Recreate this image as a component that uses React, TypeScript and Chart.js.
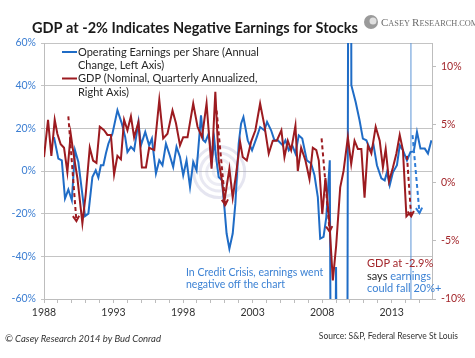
import React, { useEffect, useRef } from 'react';
import { Chart, registerables } from 'chart.js';
Chart.register(...registerables);

// ---- Data ----
const earningsYears = [
  1988.72, 1989.03, 1989.28, 1989.51, 1989.75, 1990.0, 1990.23, 1990.47, 1990.72, 1990.95,
  1991.19, 1991.48, 1991.72, 1991.91, 1992.09, 1992.27, 1992.45, 1992.63, 1992.92, 1993.28,
  1993.6, 1993.84, 1994.0, 1994.25, 1994.48, 1994.79, 1994.97, 1995.28, 1995.56, 1995.76,
  1996.05, 1996.29, 1996.52, 1996.77, 1997.04, 1997.29, 1997.53, 1997.78, 1998.01, 1998.25,
  1998.5, 1998.73, 1998.97, 1999.29, 1999.46, 1999.6, 1999.84, 2000.08, 2000.25, 2000.37,
  2000.56, 2000.8, 2000.97, 2001.13, 2001.33, 2001.57, 2001.76, 2002.0, 2002.17, 2002.34,
  2002.65, 2002.96, 2003.3, 2003.54, 2003.85, 2004.04, 2004.33, 2004.57, 2004.81, 2005.17,
  2005.36, 2005.6, 2005.85, 2006.08, 2006.32, 2006.57, 2006.9, 2007.21, 2007.45, 2007.69,
  2007.86, 2008.1, 2008.3, 2008.55, 2008.75, 2009.0, 2009.25, 2009.75, 2010.0, 2010.1,
  2010.41, 2010.69, 2010.93, 2011.18, 2011.47, 2011.7, 2011.94, 2012.26, 2012.5, 2012.66,
  2012.86, 2013.09, 2013.38, 2013.58, 2013.81, 2014.1, 2014.35, 2014.59, 2014.82, 2015.07,
  2015.38, 2015.61, 2015.86,
];
const earningsValues = [
  15.9, 5.8, 5.0, -12.9, -8.7, -13.7, 9.7, 4.2, -9.0, -21.2,
  -20.0, -2.8, 0.3, -3.1, 2.7, 2.7, 8.2, 12.8, 17.5, 28.5,
  22.2, 15.9, 8.9, 11.3, 9.7, 23.0, 12.0, 18.3, 12.0, 15.2,
  -1.2, 5.0, 2.7, 12.8, 7.4, 1.9, 11.3, 6.6, -2.0, 5.0,
  -7.5, 4.2, 0.3, 26.1, 14.4, 13.6, 17.5, 5.0, 14.4, 6.6,
  -2.8, -4.4, -16.9, -29.3, -36.4, -29.3, -15.3, 12.8, 22.2, 25.3,
  14.4, 9.7, 15.9, 20.6, 19.1, 23.0, 19.1, 14.4, 14.4, 12.0,
  14.4, 9.7, 12.0, 8.2, 16.7, 15.2, 5.0, 3.5, -2.0, -12.2,
  -31.7, -30.9, -21.6, 5.0, -300, -45, -300, -300, 500, 40.2,
  32.3, 23.8, 15.2, 14.4, 9.7, 12.0, 2.7, -3.4, -4.4, -0.6,
  -6.7, -0.6, 2.7, 12.0, 9.7, 5.0, 8.9, 9.2, 18.3, 10.5,
  10.5, 8.2, 14.4,
];

const gdpYears = [
  1988.0, 1988.29, 1988.53, 1988.77, 1988.96, 1989.2, 1989.44, 1989.68, 1989.92, 1990.16,
  1990.4, 1990.76, 1991.0, 1991.29, 1991.53, 1991.77, 1992.01, 1992.32, 1992.56, 1992.81,
  1993.04, 1993.28, 1993.53, 1993.76, 1994.0, 1994.25, 1994.48, 1994.79, 1995.04, 1995.33,
  1995.56, 1995.93, 1996.29, 1996.57, 1996.88, 1997.24, 1997.49, 1997.78, 1998.01, 1998.32,
  1998.73, 1999.04, 1999.36, 1999.69, 2000.05, 2000.32, 2000.56, 2000.8, 2000.97, 2001.33,
  2001.57, 2001.81, 2002.1, 2002.29, 2002.58, 2002.89, 2003.2, 2003.54, 2003.85, 2004.16,
  2004.45, 2004.74, 2005.07, 2005.29, 2005.53, 2005.77, 2006.08, 2006.25, 2006.49, 2006.8,
  2007.09, 2007.33, 2007.58, 2007.76, 2008.01, 2008.24, 2008.53, 2008.77, 2009.01, 2009.3,
  2009.54, 2009.85, 2010.09, 2010.33, 2010.57, 2010.82, 2011.05, 2011.29, 2011.54, 2011.85,
  2012.14, 2012.37, 2012.57, 2012.81, 2013.09, 2013.34, 2013.58, 2013.81, 2014.06, 2014.3,
];
const gdpValues = [
  2.2, 5.4, 2.3, 5.4, 4.2, 3.3, 3.0, 0.9, 4.2, 2.2,
  0.4, -3.5, -1.0, 3.0, 1.9, 1.7, 4.8, 4.5, 4.1, 4.1,
  0.7, 2.3, 2.0, 5.4, 4.5, 5.7, 3.9, 5.2, 1.3, 1.3,
  3.0, 2.8, 7.1, 3.8, 4.2, 6.2, 5.1, 3.2, 3.9, 3.9,
  6.8, 4.8, 3.9, 6.8, 1.2, 7.8, 1.9, 0.1, -1.6, 1.2,
  -1.3, 0.7, 3.5, 2.2, 1.9, 3.5, 4.5, 6.8, 4.9, 2.5,
  3.6, 3.6, 4.5, 2.2, 3.6, 2.8, 4.9, 1.0, 3.0, 1.9,
  0.3, 3.0, 2.8, 1.9, -2.7, 0.4, -3.6, -8.4, -5.4, -0.4,
  1.0, 3.9, 1.6, 3.6, 2.9, 2.9, -1.3, 3.2, 2.5, 4.8,
  3.6, 1.3, 2.9, 0.1, 1.3, 2.5, 4.1, 2.8, -2.9, -2.6,
];

const leftTicks = [-60, -40, -20, 0, 20, 40, 60];
const rightTicks = [-10, -5, 0, 5, 10];
const labeledYears = [1988, 1993, 1998, 2003, 2008, 2013];

// dashed arrows on the GDP (right) axis
const gdpArrowFromYear = [1989.75, 2000.41, 2007.96, 2014.1];
const gdpArrowFromValue = [5.7, 6.2, 3.8, 2.3];
const gdpArrowToYear = [1990.33, 2001.04, 2008.54, 2014.4];
const gdpArrowToValue = [-3.3, -1.9, -4.2, -2.9];
// dashed arrow on the earnings (left) axis
const epsArrowFromYear = [2014.5];
const epsArrowFromValue = [16.8];
const epsArrowToYear = [2015.0];
const epsArrowToValue = [-19.7];

const markerYear = 2014.35;
const watermarkYear = 2000.6;
const watermarkValue = -0.5;

const BLUE = '#1F6CC6';
const RED = '#9C1B20';
const TEXT_BLUE = '#3C82D4';
const FONT = 'Lato, "Open Sans", sans-serif';

function drawArrow(ctx: CanvasRenderingContext2D, x1: number, y1: number, x2: number, y2: number, color: string) {
  ctx.save();
  ctx.strokeStyle = color;
  ctx.lineWidth = 2;
  ctx.setLineDash([4, 3]);
  ctx.beginPath();
  ctx.moveTo(x1, y1);
  ctx.lineTo(x2, y2);
  ctx.stroke();
  ctx.setLineDash([]);
  const ang = Math.atan2(y2 - y1, x2 - x1);
  const len = 6;
  ctx.beginPath();
  ctx.moveTo(x2 - len * Math.cos(ang - 0.55), y2 - len * Math.sin(ang - 0.55));
  ctx.lineTo(x2, y2);
  ctx.lineTo(x2 - len * Math.cos(ang + 0.55), y2 - len * Math.sin(ang + 0.55));
  ctx.stroke();
  ctx.restore();
}

const decorPlugin = {
  id: 'decor',
  beforeDatasetsDraw(chart: any) {
    const { ctx, chartArea, scales } = chart;
    const cx = scales.x.getPixelForValue(watermarkYear);
    const cy = scales.y.getPixelForValue(watermarkValue);
    ctx.save();
    ctx.beginPath();
    ctx.rect(chartArea.left, chartArea.top, chartArea.right - chartArea.left, chartArea.bottom - chartArea.top);
    ctx.clip();
    [6, 12.5, 19, 25.5].forEach((r, i) => {
      ctx.beginPath();
      ctx.arc(cx, cy, r, 0, Math.PI * 2);
      ctx.strokeStyle = `rgba(160,160,200,${0.16 + i * 0.04})`;
      ctx.lineWidth = 3;
      ctx.stroke();
    });
    // marker vertical line
    const mx = scales.x.getPixelForValue(markerYear);
    ctx.beginPath();
    ctx.moveTo(mx + 0.5, chartArea.top);
    ctx.lineTo(mx + 0.5, chartArea.bottom);
    ctx.strokeStyle = '#5B95D6';
    ctx.lineWidth = 1;
    ctx.stroke();
    ctx.restore();
  },
  afterDatasetsDraw(chart: any) {
    const { ctx, scales } = chart;
    gdpArrowFromYear.forEach((_, i) => {
      drawArrow(ctx,
        scales.x.getPixelForValue(gdpArrowFromYear[i]), scales.y1.getPixelForValue(gdpArrowFromValue[i]),
        scales.x.getPixelForValue(gdpArrowToYear[i]), scales.y1.getPixelForValue(gdpArrowToValue[i]), RED);
    });
    epsArrowFromYear.forEach((_, i) => {
      drawArrow(ctx,
        scales.x.getPixelForValue(epsArrowFromYear[i]), scales.y.getPixelForValue(epsArrowFromValue[i]),
        scales.x.getPixelForValue(epsArrowToYear[i]), scales.y.getPixelForValue(epsArrowToValue[i]), '#2C7BD6');
    });
  },
  afterDraw(chart: any) {
    const { ctx } = chart;
    ctx.save();
    ctx.textBaseline = 'middle';
    ctx.textAlign = 'left';

    // Title fitted to its width in the reference
    const title = 'GDP at -2% Indicates Negative Earnings for Stocks';
    ctx.font = `bold 18px ${FONT}`;
    const w = ctx.measureText(title).width;
    const size = Math.min(19, 18 * 326 / w);
    ctx.font = `bold ${size}px ${FONT}`;
    ctx.fillStyle = '#1a1a1a';
    ctx.textBaseline = 'alphabetic';
    ctx.fillText(title, 32, 33);

    // Logo
    ctx.beginPath();
    ctx.arc(371, 22, 7, 0, Math.PI * 2);
    ctx.fillStyle = '#9a9a9a';
    ctx.fill();
    ctx.beginPath();
    ctx.arc(373, 21, 3.5, 0, Math.PI * 2);
    ctx.fillStyle = '#e0e0e0';
    ctx.fill();
    let lx = 381;
    const parts: [string, number][] = [['C', 11], ['ASEY ', 8.3], ['R', 11], ['ESEARCH.COM', 8.3]];
    ctx.fillStyle = '#6d6d6d';
    parts.forEach(([t, s]) => {
      ctx.font = `${s}px "Liberation Serif", "DejaVu Serif", serif`;
      ctx.fillText(t, lx, 26);
      lx += ctx.measureText(t).width;
    });

    // Legend
    ctx.textBaseline = 'middle';
    ctx.font = `11px ${FONT}`;
    ctx.fillStyle = '#262626';
    ctx.lineWidth = 2;
    ctx.strokeStyle = BLUE;
    ctx.beginPath(); ctx.moveTo(62, 52); ctx.lineTo(77, 52); ctx.stroke();
    ctx.strokeStyle = RED;
    ctx.beginPath(); ctx.moveTo(62, 78.5); ctx.lineTo(77, 78.5); ctx.stroke();
    ctx.fillText('Operating Earnings per Share (Annual', 78, 52);
    ctx.fillText('Change, Left Axis)', 78, 65);
    ctx.fillText('GDP (Nominal, Quarterly Annualized,', 78, 78.5);
    ctx.fillText('Right Axis)', 78, 92);

    // Credit crisis note
    ctx.font = `10.5px ${FONT}`;
    ctx.fillStyle = TEXT_BLUE;
    ctx.fillText('In Credit Crisis, earnings went', 186, 273);
    ctx.fillText('negative off the chart', 186, 284.5);

    // GDP note
    ctx.font = `11px ${FONT}`;
    ctx.fillStyle = '#A3262B';
    ctx.fillText('GDP at -2.9%', 367, 263);
    ctx.fillStyle = '#262626';
    ctx.fillText('says ', 367, 276);
    const sw = ctx.measureText('says ').width;
    ctx.fillStyle = TEXT_BLUE;
    ctx.fillText('earnings', 367 + sw, 276);
    ctx.fillText('could fall 20%+', 367, 288);

    // Footer
    ctx.font = `italic 9.5px ${FONT}`;
    ctx.fillStyle = '#333';
    ctx.fillText('\u00A9 Casey Research 2014 by Bud Conrad', 5, 339);
    ctx.font = `8.5px ${FONT}`;
    ctx.textAlign = 'right';
    ctx.fillText('Source: S&P, Federal Reserve St Louis', 458, 336);
    ctx.restore();
  },
};

export default function App() {
  const ref = useRef<HTMLCanvasElement | null>(null);
  useEffect(() => {
    if (!ref.current) return;
    const yearTickValues: number[] = [];
    for (let yr = 1988; yr <= 2015; yr++) yearTickValues.push(yr);
    const chart = new Chart(ref.current, {
      type: 'line',
      data: {
        datasets: [
          {
            label: 'GDP (Nominal, Quarterly Annualized, Right Axis)',
            data: gdpYears.map((x, i) => ({ x, y: gdpValues[i] })),
            borderColor: RED,
            borderWidth: 2,
            pointRadius: 0,
            tension: 0,
            yAxisID: 'y1',
            order: 0,
          },
          {
            label: 'Operating Earnings per Share (Annual Change, Left Axis)',
            data: earningsYears.map((x, i) => ({ x, y: earningsValues[i] })),
            borderColor: BLUE,
            borderWidth: 2,
            pointRadius: 0,
            tension: 0,
            yAxisID: 'y',
            order: 1,
          },
        ],
      },
      options: {
        responsive: false,
        animation: false,
        events: [],
        layout: { padding: { top: 43, bottom: 37, left: 0, right: 0 } },
        plugins: { legend: { display: false }, tooltip: { enabled: false }, title: { display: false } },
        scales: {
          x: {
            type: 'linear',
            min: 1988,
            max: 2015.9,
            afterBuildTicks: (s: any) => { s.ticks = yearTickValues.map((v) => ({ value: v })); },
            afterFit: (s: any) => { s.height = 22; },
            ticks: {
              autoSkip: false,
              maxRotation: 0,
              padding: 3,
              color: '#333',
              font: { family: FONT, size: 10.5 },
              callback: (v: any) => (labeledYears.includes(v) ? String(v) : ''),
            },
            grid: { drawOnChartArea: false, drawTicks: true, tickLength: 4, color: '#BDBDBD' },
            border: { color: '#BDBDBD' },
          },
          y: {
            position: 'left',
            min: -60,
            max: 60,
            afterBuildTicks: (s: any) => { s.ticks = leftTicks.map((v) => ({ value: v })); },
            afterFit: (s: any) => { s.width = 44; },
            ticks: {
              padding: 5,
              color: '#3C7ED2',
              font: { family: FONT, size: 10.5 },
              callback: (v: any) => `${v}%`,
            },
            grid: { color: '#C4C4C4', tickLength: 3 },
            border: { color: '#BDBDBD' },
          },
          y1: {
            position: 'right',
            min: -10,
            max: 12,
            afterBuildTicks: (s: any) => { s.ticks = rightTicks.map((v) => ({ value: v })); },
            afterFit: (s: any) => { s.width = 43; },
            ticks: {
              padding: 5,
              color: '#A3262B',
              font: { family: FONT, size: 10.5 },
              callback: (v: any) => `${v}%`,
            },
            grid: { drawOnChartArea: false, tickLength: 4, color: '#BDBDBD' },
            border: { color: '#BDBDBD' },
          },
        },
      },
      plugins: [decorPlugin],
    });
    return () => chart.destroy();
  }, []);
  return (
    <canvas
      ref={ref}
      width={475}
      height={358}
      style={{ position: 'absolute', left: 0, top: 0, width: 475, height: 358, background: '#fff' }}
    />
  );
}
